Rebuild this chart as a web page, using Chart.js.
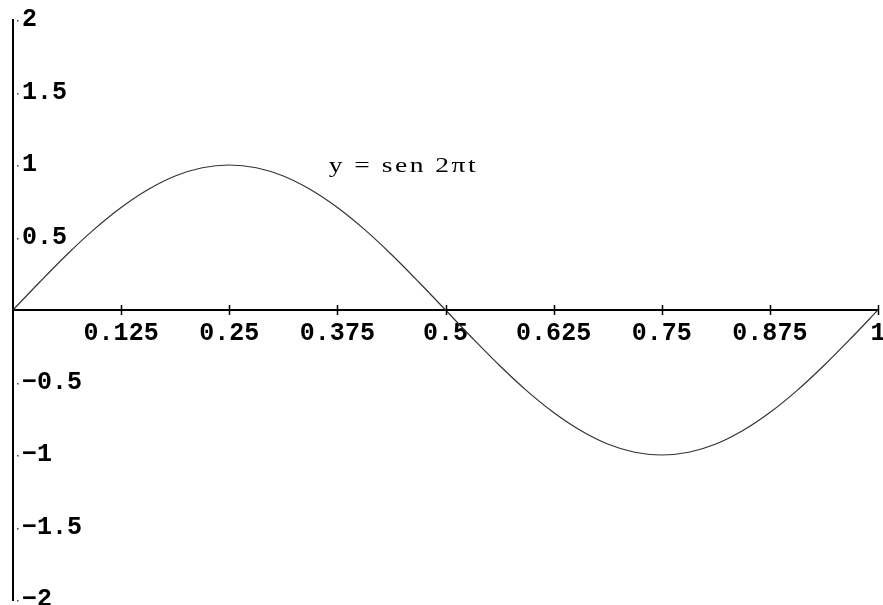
<!DOCTYPE html>
<html>
<head>
<meta charset="utf-8">
<script src="https://cdn.jsdelivr.net/npm/chart.js@4.4.1/dist/chart.umd.min.js"></script>
<style>
  html, body { margin: 0; padding: 0; background: #fff; }
  #wrap { width: 883px; height: 605px; }
</style>
</head>
<body>
<div id="wrap"><canvas id="sineChart"></canvas></div>
<script>
// t values and sampled y of the curve
const tValues = [
    0, 0.03125, 0.0625, 0.09375, 0.125, 0.15625, 0.1875, 0.21875,
    0.25, 0.28125, 0.3125, 0.34375, 0.375, 0.40625, 0.4375, 0.46875,
    0.5, 0.53125, 0.5625, 0.59375, 0.625, 0.65625, 0.6875, 0.71875,
    0.75, 0.78125, 0.8125, 0.84375, 0.875, 0.90625, 0.9375, 0.96875, 1
];
const yValues = [
    0, 0.195, 0.383, 0.556, 0.707, 0.831, 0.924, 0.981,
    1, 0.981, 0.924, 0.831, 0.707, 0.556, 0.383, 0.195,
    0, -0.195, -0.383, -0.556, -0.707, -0.831, -0.924, -0.981,
    -1, -0.981, -0.924, -0.831, -0.707, -0.556, -0.383, -0.195, 0
];

// axis ticks and their printed labels
const xTicks = [0.125, 0.25, 0.375, 0.5, 0.625, 0.75, 0.875, 1];
const xTickLabels = ['0.125', '0.25', '0.375', '0.5', '0.625', '0.75', '0.875', '1'];
const yTicks = [-2, -1.5, -1, -0.5, 0.5, 1, 1.5, 2];
const yTickLabels = ['\u22122', '\u22121.5', '\u22121', '\u22120.5', '0.5', '1', '1.5', '2'];

const curveLabel = 'y = sen 2\u03c0t';
const curveLabelAt = { x: 0.365, y: 0.95 };

const tickFont = { family: '"Liberation Mono", monospace', size: 25, weight: 'bold' };

// small cross ticks on the x axis, dots beside the y axis, and the curve label
const axisMarks = {
    id: 'axisMarks',
    afterDraw(chart) {
        const { ctx, scales: { x, y } } = chart;
        const y0 = y.getPixelForValue(0);
        const x0 = x.getPixelForValue(0);
        ctx.save();
        ctx.strokeStyle = '#000';
        ctx.lineWidth = 1.5;
        xTicks.forEach(v => {
            const px = Math.round(x.getPixelForValue(v)) + 0.5;
            ctx.beginPath();
            ctx.moveTo(px, y0 - 5);
            ctx.lineTo(px, y0 + 5);
            ctx.stroke();
        });
        ctx.fillStyle = '#444';
        yTicks.forEach(v => {
            ctx.fillRect(x0 + 4, Math.round(y.getPixelForValue(v)), 1.5, 1.5);
        });

        // stretched serif label next to the curve
        const lx = x.getPixelForValue(curveLabelAt.x);
        const ly = y.getPixelForValue(curveLabelAt.y);
        ctx.translate(lx, ly);
        ctx.scale(1.25, 1);
        ctx.fillStyle = '#000';
        ctx.font = '22px "Liberation Serif", serif';
        ctx.letterSpacing = '2px';
        ctx.textBaseline = 'alphabetic';
        ctx.fillText(curveLabel, 0, 0);
        ctx.restore();
    }
};

const noPadding = scale => {
    scale.paddingTop = 0;
    scale.paddingBottom = 0;
    scale.paddingLeft = 0;
    scale.paddingRight = 0;
};

const ctx = document.getElementById('sineChart').getContext('2d');
new Chart(ctx, {
    type: 'line',
    data: {
        datasets: [{
            data: tValues.map((t, i) => ({ x: t, y: yValues[i] })),
            borderColor: '#333',
            borderWidth: 1.2,
            pointRadius: 0,
            cubicInterpolationMode: 'monotone',
            fill: false
        }]
    },
    options: {
        responsive: true,
        maintainAspectRatio: false,
        animation: false,
        layout: { padding: { left: 12, right: 5, top: 20, bottom: 5 } },
        plugins: { legend: { display: false }, tooltip: { enabled: false } },
        scales: {
            x: {
                type: 'linear',
                position: { y: 0 },
                min: 0,
                max: 1,
                afterBuildTicks: scale => { scale.ticks = xTicks.map(v => ({ value: v })); },
                afterFit: noPadding,
                grid: { display: false, drawTicks: false },
                border: { display: true, color: '#000', width: 2 },
                ticks: {
                    color: '#000',
                    font: tickFont,
                    padding: 9,
                    maxRotation: 0,
                    autoSkip: false,
                    callback: v => xTickLabels[xTicks.indexOf(v)]
                }
            },
            y: {
                type: 'linear',
                position: 'left',
                min: -2,
                max: 2,
                afterBuildTicks: scale => { scale.ticks = yTicks.map(v => ({ value: v })); },
                afterFit: scale => {
                    noPadding(scale);
                    scale.width = 1;
                },
                grid: { display: false, drawTicks: false },
                border: { display: true, color: '#000', width: 2 },
                ticks: {
                    color: '#000',
                    font: tickFont,
                    mirror: true,
                    padding: 9,
                    autoSkip: false,
                    callback: v => yTickLabels[yTicks.indexOf(v)]
                }
            }
        }
    },
    plugins: [axisMarks]
});
</script>
</body>
</html>
